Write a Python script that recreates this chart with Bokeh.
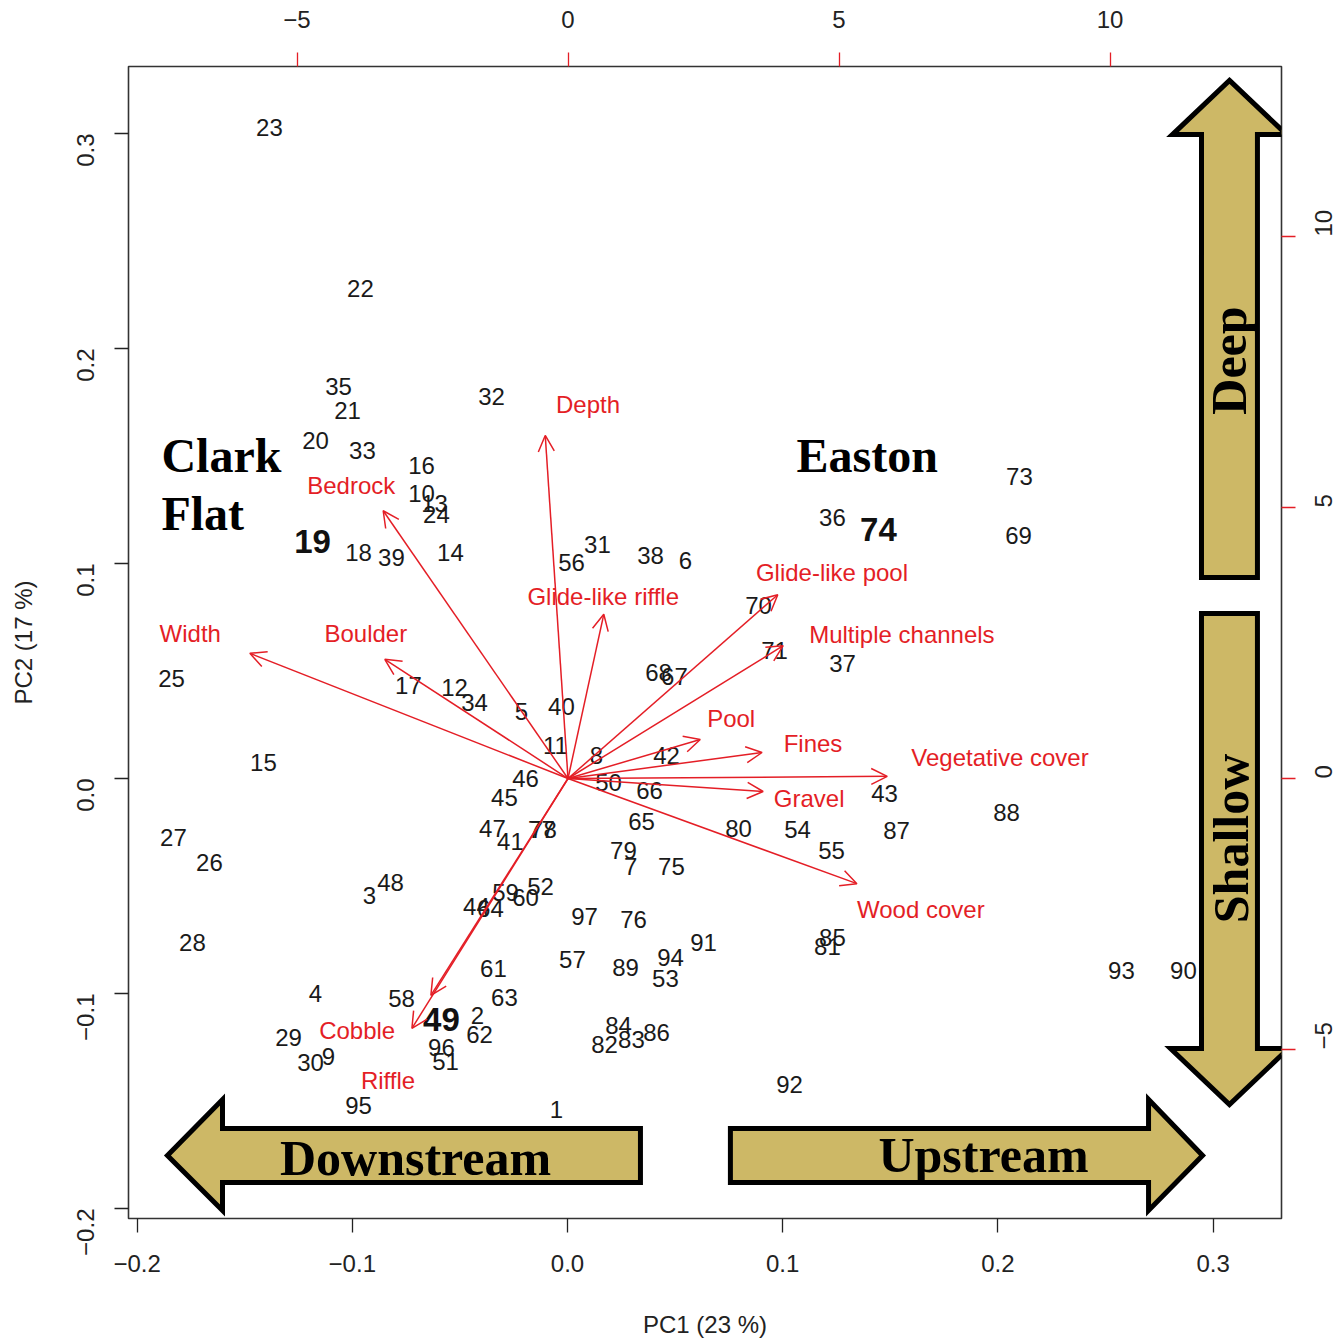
import math
from bokeh.plotting import figure
from bokeh.models import Range1d, LinearAxis, FixedTicker, Arrow, OpenHead, ColumnDataSource
from bokeh.core.properties import value
from bokeh.embed import file_html
from bokeh.resources import INLINE

# ---------------- data: site scores (PC1, PC2) ----------------
site_ids = ["23", "22", "35", "21", "20", "33", "32", "16", "10", "13", "24", "19", "18", "39", "14",
            "56", "31", "38", "6", "36", "74", "73", "69", "70", "71", "37", "68", "67", "25", "17",
            "12", "34", "5", "40", "11", "8", "42", "15", "46", "45", "50", "66", "43", "88", "47",
            "41", "77", "78", "65", "80", "54", "87", "55", "27", "26", "79", "7", "75", "3", "48",
            "59", "60", "52", "44", "64", "97", "76", "91", "85", "81", "28", "61", "57", "89", "94",
            "53", "93", "90", "4", "58", "63", "49", "2", "62", "84", "83", "82", "86", "29", "96",
            "51", "30", "9", "92", "95", "1"]
pc1 = [-0.1385, -0.0962, -0.1064, -0.1022, -0.1171, -0.0953, -0.0353, -0.0678, -0.0678, -0.0618,
       -0.0609, -0.1185, -0.0971, -0.0818, -0.0544, 0.0019, 0.0139, 0.0386, 0.0548, 0.1231,
       0.1445, 0.2100, 0.2096, 0.0888, 0.0962, 0.1278, 0.0423, 0.0497, -0.1840, -0.0739,
       -0.0525, -0.0432, -0.0214, -0.0028, -0.0056, 0.0135, 0.0460, -0.1413, -0.0195, -0.0293,
       0.0191, 0.0381, 0.1473, 0.2040, -0.0349, -0.0265, -0.0121, -0.0112, 0.0344, 0.0795,
       0.1069, 0.1529, 0.1227, -0.1831, -0.1664, 0.0260, 0.0293, 0.0483, -0.0920, -0.0822,
       -0.0288, -0.0195, -0.0125, -0.0423, -0.0358, 0.0079, 0.0307, 0.0632, 0.1231, 0.1208,
       -0.1743, -0.0344, 0.0023, 0.0270, 0.0479, 0.0455, 0.2574, 0.2862, -0.1171, -0.0771,
       -0.0293, -0.0586, -0.0418, -0.0409, 0.0237, 0.0297, 0.0172, 0.0414, -0.1296, -0.0586,
       -0.0567, -0.1194, -0.1111, 0.1032, -0.0971, -0.0051]
pc2 = [0.3028, 0.2279, 0.1823, 0.1712, 0.1572, 0.1526, 0.1777, 0.1456, 0.1326, 0.1279,
       0.1228, 0.1102, 0.1051, 0.1028, 0.1051, 0.1005, 0.1088, 0.1037, 0.1014, 0.1214,
       0.1158, 0.1405, 0.1130, 0.0805, 0.0595, 0.0535, 0.0493, 0.0474, 0.0465, 0.0433,
       0.0423, 0.0353, 0.0312, 0.0335, 0.0153, 0.0107, 0.0107, 0.0074, 0.0000, -0.0088,
       -0.0019, -0.0056, -0.0070, -0.0158, -0.0233, -0.0293, -0.0237, -0.0237, -0.0200, -0.0233,
       -0.0237, -0.0242, -0.0335, -0.0274, -0.0391, -0.0335, -0.0409, -0.0409, -0.0544, -0.0484,
       -0.0530, -0.0553, -0.0502, -0.0595, -0.0605, -0.0642, -0.0656, -0.0763, -0.0740, -0.0781,
       -0.0763, -0.0884, -0.0842, -0.0879, -0.0833, -0.0930, -0.0893, -0.0893, -0.1000, -0.1023,
       -0.1019, -0.1121, -0.1102, -0.1191, -0.1149, -0.1214, -0.1237, -0.1181, -0.1205, -0.1251,
       -0.1316, -0.1321, -0.1293, -0.1423, -0.1521, -0.1540]
highlight_ids = ["19", "49", "74"]

# ---------------- data: variable loadings (top / right axes scale) ----------------
variables = ["Depth", "Bedrock", "Glide-like riffle", "Glide-like pool", "Width", "Boulder",
             "Multiple channels", "Pool", "Fines", "Vegetative cover", "Gravel", "Wood cover",
             "Cobble", "Riffle"]
load_pc1 = [-0.42, -3.41, 0.66, 3.87, -5.87, -3.38, 3.97, 2.44, 3.58, 5.89, 3.60, 5.33, -2.88, -2.53]
load_pc2 = [6.33, 4.94, 3.03, 3.39, 2.31, 2.20, 2.45, 0.72, 0.48, 0.04, -0.24, -1.94, -4.61, -4.00]
var_label_x = [0.37, -4.00, 0.65, 4.87, -6.97, -3.73, 6.16, 3.01, 4.52, 7.97, 4.45, 6.51, -3.89, -3.32]
var_label_y = [6.90, 5.41, 3.36, 3.80, 2.68, 2.68, 2.66, 1.11, 0.65, 0.39, -0.37, -2.42, -4.65, -5.57]

# ---------------- axes ticks ----------------
pc1_ticks = [-0.2, -0.1, 0.0, 0.1, 0.2, 0.3]
pc1_tick_labels = ["\u22120.2", "\u22120.1", "0.0", "0.1", "0.2", "0.3"]
pc2_ticks = [-0.2, -0.1, 0.0, 0.1, 0.2, 0.3]
pc2_tick_labels = ["\u22120.2", "\u22120.1", "0.0", "0.1", "0.2", "0.3"]
load_ticks = [-5, 0, 5, 10]
load_tick_labels = ["\u22125", "0", "5", "10"]

# ---------------- styles ----------------
RED = "#E41E26"
GOLD = "#CDB866"
SANS = "Liberation Sans"
SERIF = "Liberation Serif"

p = figure(frame_width=1153, frame_height=1152,
           x_range=Range1d(-0.20399, 0.33178), y_range=Range1d(-0.20465, 0.33116),
           output_backend="svg", toolbar_location=None,
           min_border_left=128, min_border_right=57, min_border_top=66, min_border_bottom=122)
p.extra_x_ranges = {"loadX": Range1d(-8.109, 13.164)}
p.extra_y_ranges = {"loadY": Range1d(-8.118, 13.137)}
p.grid.visible = False
p.background_fill_color = "white"
p.outline_line_color = "#333333"
p.outline_line_width = 1.6

# bottom axis
xa = p.xaxis[0]
xa.ticker = FixedTicker(ticks=pc1_ticks)
xa.major_label_overrides = dict(zip(pc1_ticks, pc1_tick_labels))
xa.axis_label = "PC1 (23 %)"
# left axis
ya = p.yaxis[0]
ya.ticker = FixedTicker(ticks=pc2_ticks)
ya.major_label_overrides = dict(zip(pc2_ticks, pc2_tick_labels))
ya.axis_label = "PC2 (17 %)"
ya.major_label_orientation = math.pi / 2

top_axis = LinearAxis(x_range_name="loadX", ticker=FixedTicker(ticks=load_ticks),
                      major_label_overrides=dict(zip(load_ticks, load_tick_labels)))
right_axis = LinearAxis(y_range_name="loadY", ticker=FixedTicker(ticks=load_ticks),
                        major_label_overrides=dict(zip(load_ticks, load_tick_labels)),
                        major_label_orientation=math.pi / 2)
p.add_layout(top_axis, "above")
p.add_layout(right_axis, "right")

for ax in [xa, ya, top_axis, right_axis]:
    ax.axis_line_color = None
    ax.minor_tick_line_color = None
    ax.major_tick_in = 0
    ax.major_tick_out = 14
    ax.major_tick_line_width = 1.3
    ax.major_label_text_font = SANS
    ax.major_label_text_font_size = "24px"
    ax.major_label_text_color = "#222222"
    ax.axis_label_text_font = SANS
    ax.axis_label_text_font_size = "24px"
    ax.axis_label_text_font_style = "normal"
    ax.axis_label_text_color = "#222222"
for ax in [xa, ya]:
    ax.major_tick_line_color = "#222222"
for ax in [top_axis, right_axis]:
    ax.major_tick_line_color = RED

xa.major_label_standoff = 22
xa.axis_label_standoff = 36
ya.major_label_standoff = 29
ya.axis_label_standoff = 29
top_axis.major_label_standoff = 25
right_axis.major_label_standoff = 28

# ---------------- site labels ----------------
reg = [i for i, s in enumerate(site_ids) if s not in highlight_ids]
big = [i for i, s in enumerate(site_ids) if s in highlight_ids]
src_reg = ColumnDataSource(dict(x=[pc1[i] for i in reg], y=[pc2[i] for i in reg],
                                t=[site_ids[i] for i in reg]))
src_big = ColumnDataSource(dict(x=[pc1[i] for i in big], y=[pc2[i] for i in big],
                                t=[site_ids[i] for i in big]))
p.text(x="x", y="y", text="t", source=src_reg, text_font=value(SANS), text_font_size="24px",
       text_align="center", text_baseline="middle", text_color="#1a1a1a")
p.text(x="x", y="y", text="t", source=src_big, text_font=value(SANS), text_font_size="33px",
       text_font_style="bold", text_align="center", text_baseline="middle", text_color="#111111")

# ---------------- variable arrows ----------------
arr_src = ColumnDataSource(dict(x0=[0.0] * len(variables), y0=[0.0] * len(variables),
                                x1=load_pc1, y1=load_pc2))
p.add_layout(Arrow(source=arr_src, x_start="x0", y_start="y0", x_end="x1", y_end="y1",
                   line_color=RED, line_width=1.5,
                   end=OpenHead(size=16, line_color=RED, line_width=1.5),
                   x_range_name="loadX", y_range_name="loadY"))
var_src = ColumnDataSource(dict(x=var_label_x, y=var_label_y, t=variables))
p.text(x="x", y="y", text="t", source=var_src, x_range_name="loadX", y_range_name="loadY",
       text_font=value(SANS), text_font_size="24px", text_align="center",
       text_baseline="middle", text_color=RED)

# ---------------- decorative direction arrows & site names ----------------
shapes_x = [
    [-0.1859, -0.1603, -0.1603, 0.0339, 0.0339, -0.1603, -0.1603],
    [0.0757, 0.2700, 0.2700, 0.2951, 0.2700, 0.2700, 0.0757],
    [0.3076, 0.3341, 0.3206, 0.3206, 0.2946, 0.2946, 0.2811],
    [0.2946, 0.3206, 0.3206, 0.3350, 0.3076, 0.2802, 0.2946],
]
shapes_y = [
    [-0.1753, -0.1493, -0.1628, -0.1628, -0.1879, -0.1879, -0.2009],
    [-0.1628, -0.1628, -0.1493, -0.1753, -0.2009, -0.1879, -0.1879],
    [0.3247, 0.2995, 0.2995, 0.0935, 0.0935, 0.2995, 0.2995],
    [0.0767, 0.0767, -0.1256, -0.1256, -0.1516, -0.1256, -0.1256],
]
p.patches(xs=shapes_x, ys=shapes_y, fill_color=GOLD, line_color="black", line_width=5,
          line_join="miter")

dir_words = ["Downstream", "Upstream", "Deep", "Shallow"]
dir_x = [-0.0706, 0.1933, 0.3072, 0.3081]
dir_y = [-0.1763, -0.1753, 0.1944, -0.0279]
dir_angle = [0, 0, math.pi / 2, math.pi / 2]
p.text(x=dir_x, y=dir_y, text=dir_words, angle=dir_angle, text_font=value(SERIF),
       text_font_size="50px", text_font_style="bold", text_align="center",
       text_baseline="middle", text_color="black")

site_names = ["Clark", "Flat", "Easton"]
name_x = [-0.1887, -0.1887, 0.1064]
name_y = [0.1502, 0.1233, 0.1502]
p.text(x=name_x, y=name_y, text=site_names, text_font=value(SERIF), text_font_size="48px",
       text_font_style="bold", text_align="left", text_baseline="middle", text_color="black")

open("out.html", "w").write(file_html(p, INLINE))
